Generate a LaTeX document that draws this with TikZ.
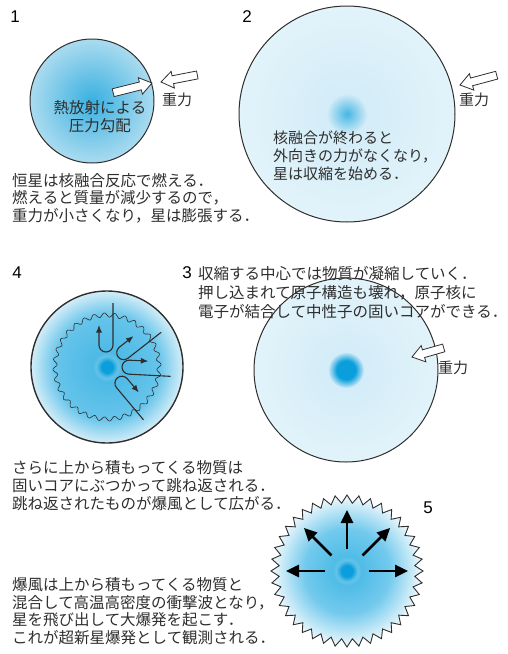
\documentclass[tikz,border=0pt]{standalone}
\usepackage{fontspec}
\newfontfamily\jpfont{Noto Sans CJK JP}
\newfontfamily\numfont{Liberation Sans}
\usetikzlibrary{arrows.meta,fadings}

\definecolor{corecol}{HTML}{0A9FDC}
\definecolor{hotblue}{HTML}{3DB4E3}
\definecolor{paleblue}{HTML}{D0EBF7}
\definecolor{paleedge}{HTML}{E2F3FA}
\definecolor{inkgray}{HTML}{2E2E2E}

% body shadings, blue core fading out to the rim
\pgfdeclareradialshading{burning}{\pgfpointorigin}{rgb(0bp)=(0.22,0.69,0.88); rgb(25bp)=(0.67,0.86,0.94); rgb(50bp)=(0.67,0.86,0.94)}
\pgfdeclareradialshading{rebound}{\pgfpointorigin}{rgb(0bp)=(0.26,0.71,0.89); rgb(17bp)=(0.40,0.77,0.92); rgb(25bp)=(0.83,0.93,0.97); rgb(50bp)=(0.83,0.93,0.97)}
\pgfdeclareradialshading{blastwave}{\pgfpointorigin}{rgb(0bp)=(0.24,0.71,0.89); rgb(14bp)=(0.45,0.79,0.93); rgb(25bp)=(0.95,0.98,0.99); rgb(50bp)=(1,1,1)}

% solid core with a soft rim
\pgfdeclareradialshading{glowshade}{\pgfpointorigin}{color(0bp)=(transparent!0); color(13bp)=(transparent!0); color(25bp)=(transparent!100); color(50bp)=(transparent!100)}
\pgfdeclarefading{glow}{\pgfuseshading{glowshade}}
\tikzfading[name=haze, inner color=transparent!0, outer color=transparent!100]

\tikzset{
  stagenum/.style={font=\numfont\fontsize{17}{17}\selectfont, inner sep=0pt},
  caption/.style={font=\jpfont\fontsize{15.5}{17.5}\selectfont, text=inkgray, align=left, anchor=base west, inner sep=0pt},
  gravlabel/.style={font=\jpfont\fontsize{15}{15}\selectfont, text=inkgray, inner sep=0pt},
  shell/.style={draw=inkgray, line width=1pt},
  gravity/.style={draw=inkgray, fill=white, line width=0.8pt, line join=miter},
  bounce/.style={draw=inkgray, line width=1.1pt, -{Latex[length=7.5pt,width=6pt]}},
  blast/.style={draw=black, line width=2.6pt, -{Triangle[length=13pt,width=12pt]}},
}

\begin{document}
\begin{tikzpicture}[x=1pt,y=1pt]
	\useasboundingbox (0,0) rectangle (507,-654);

	\coordinate (c1) at (92,-101);
	\coordinate (c2) at (347,-114);
	\coordinate (c4) at (107,-367);
	\coordinate (c3) at (346,-370);
	\coordinate (c5) at (347,-571);

	% 1: burning star
	\shade[shading=burning] (c1) circle (62);
	\draw[shell] (c1) circle (62);
	\node[stagenum] (n1) at (15,-17) {1};
	\node[font=\jpfont\fontsize{15.5}{18}\selectfont, text=inkgray, align=center] (heat) at (100,-117) {熱放射による\\圧力勾配};
	\node[gravlabel] (glab1) at (177,-100) {重力};
	\node[caption] (cap1) at (12,-221) {恒星は核融合反応で燃える．\\燃えると質量が減少するので，\\重力が小さくなり，星は膨張する．};

	% 2: fusion over
	\shade[inner color=paleblue, outer color=paleedge] (c2) circle (108);
	\fill[corecol!75, path fading=haze] (c2) circle (20);
	\draw[shell] (c2) circle (108);
	\node[stagenum] (n2) at (247,-17) {2};
	\node[gravlabel] (glab2) at (474,-100) {重力};
	\node[caption, font=\jpfont\fontsize{15}{18}\selectfont] (cap2) at (273,-179) {核融合が終わると\\外向きの力がなくなり，\\星は収縮を始める．};

	% 4: bounce off the core
	\shade[shading=rebound] (c4) circle (76);
	\draw[inkgray, line width=0.6pt, shift={(c4)}] plot[domain=0:359, samples=360, smooth cycle] (\x:{52+2.1*sin(32*\x)});
	\fill[white, opacity=0.5, path fading=haze] (c4) circle (15);
	\fill[corecol, path fading=glow] (c4) circle (11);
	\foreach \ang/\back in {90/42, 38/40, -3/41, -50/40}
		\draw[bounce, shift={(c4)}, rotate=\ang] (64,-6) -- (22,-6) arc[start angle=-90, end angle=-270, radius=7] -- (\back,8);
	\draw[inkgray, line width=1.4pt] (c4) circle (76);
	\node[stagenum] (n4) at (17,-273) {4};
	\node[caption, font=\jpfont\fontsize{15.5}{18}\selectfont] (cap4) at (12,-509) {さらに上から積もってくる物質は\\固いコアにぶつかって跳ね返される．\\跳ね返されたものが爆風として広がる．};

	% 3: collapsing core
	\shade[inner color=paleblue, outer color=paleedge] (c3) circle (92);
	\fill[corecol, path fading=glow] (c3) circle (18);
	\draw[shell] (c3) circle (92);
	\node[gravlabel] (glab3) at (453,-368) {重力};
	\node[stagenum] (n3) at (187,-273) {3};
	\node[caption, font=\jpfont\fontsize{15.5}{19}\selectfont] (cap3) at (198,-317) {収縮する中心では物質が凝縮していく．\\押し込まれて原子構造も壊れ，原子核に\\電子が結合して中性子の固いコアができる．};

	% white block arrows: pressure and gravity
	\coordinate (push1) at (152,-83);
	\coordinate (grav1) at (161,-82);
	\coordinate (grav2) at (460,-85);
	\coordinate (grav3) at (412,-357);
	\foreach \tip/\ang/\len in {push1/14/40, grav1/191/37, grav2/195/38, grav3/196/33}
		\draw[gravity, shift={(\tip)}, rotate=\ang] (0,0) -- (-12,8.5) -- (-12,4) -- (-\len,4) -- (-\len,-4) -- (-12,-4) -- (-12,-8.5) -- cycle;

	% 5: supernova
	\begin{scope}[shift={(c5)}]
		\shadedraw[shading=blastwave, draw=inkgray, line width=0.9pt]
			plot[domain=0:79, samples=80] ({4.5*\x}:{72+4*cos(180*\x)}) -- cycle;
		\fill[white, opacity=0.5, path fading=haze] (0,0) circle (15);
		\fill[corecol, path fading=glow] (0,0) circle (11);
		\foreach \ang in {0,45,...,180}
			\draw[blast] (\ang:22) -- (\ang:61);
	\end{scope}
	\node[stagenum] (n5) at (428,-508) {5};
	\node[caption] (cap5) at (12,-643) {爆風は上から積もってくる物質と\\混合して高温高密度の衝撃波となり，\\星を飛び出して大爆発を起こす．\\これが超新星爆発として観測される．};
\end{tikzpicture}
\end{document}
